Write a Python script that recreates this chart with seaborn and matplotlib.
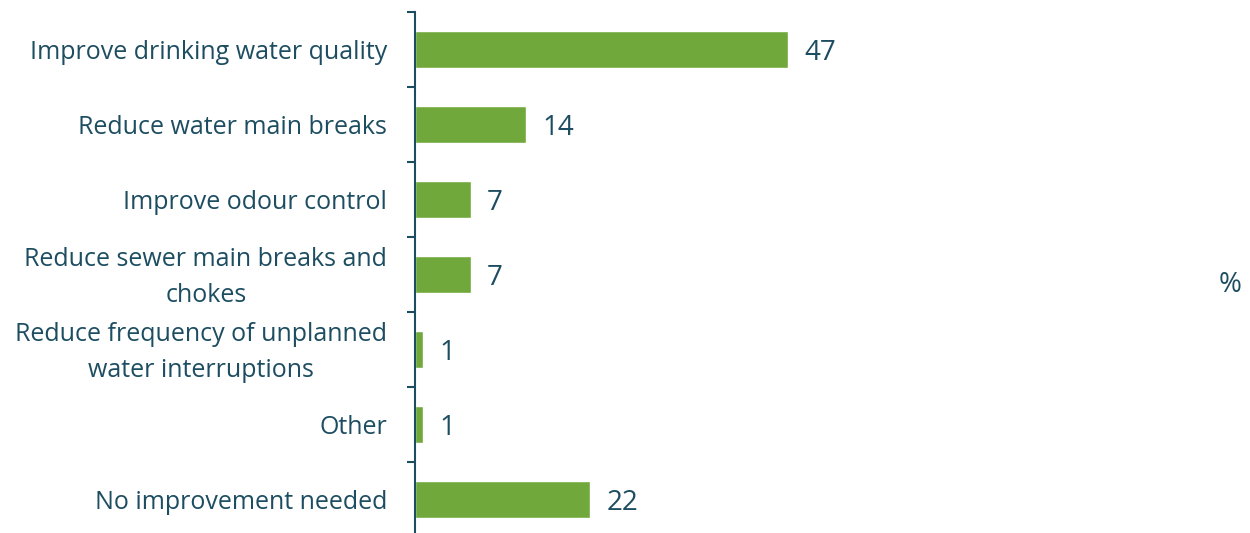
import matplotlib
matplotlib.use("Agg")
import matplotlib.pyplot as plt
import matplotlib.transforms as mtransforms
import seaborn as sns

categories = [
    "Improve drinking water quality",
    "Reduce water main breaks",
    "Improve odour control",
    "Reduce sewer main breaks and\nchokes",
    "Reduce frequency of unplanned\nwater interruptions",
    "Other",
    "No improvement needed",
]
values = [47, 14, 7, 7, 1, 1, 22]

green = "#70a83b"
ink = "#1d4d61"

sns.set_style("white")
plt.rcParams["font.family"] = ["Open Sans", "DejaVu Sans"]

fig = plt.figure(figsize=(12.5, 5.33), dpi=100)
ax = fig.add_axes([415 / 1250, 0, 785 / 1250, 521 / 533])

sns.barplot(x=values, y=categories, color=green, saturation=1, width=0.5, ax=ax)

ax.set_xlim(0, 785 / 7.94)
ax.set_ylim(-0.5 + 521 / 75, -0.5)

for s in ["top", "right", "bottom"]:
    ax.spines[s].set_visible(False)
ax.spines["left"].set_color(ink)
ax.spines["left"].set_linewidth(1.5)

ax.set_xticks([])
ax.set_xlabel("")
ax.set_ylabel("")
ax.set_yticks(range(len(categories)))
ax.set_yticklabels(categories, fontsize=18, color=ink, multialignment="center", linespacing=1.6)
ax.set_yticks([i - 0.5 for i in range(len(categories))], minor=True)
ax.tick_params(axis="y", which="major", length=0, pad=20)
ax.tick_params(axis="y", which="minor", length=6, width=1.5, color=ink, left=True)

# two-line labels sit a little high in the original
shift = mtransforms.ScaledTranslation(0, 6 / 100, fig.dpi_scale_trans)
for t in ax.get_yticklabels():
    if "\n" in t.get_text():
        t.set_transform(t.get_transform() + shift)

labels = ax.bar_label(ax.containers[0], padding=12, fontsize=20, color=ink)
for t in labels:
    t.set_va("center_baseline")

fig.text(1230 / 1250, 1 - 285 / 533, "%", fontsize=20, color=ink, ha="center", va="center")

fig.savefig("out.png", dpi=100)
